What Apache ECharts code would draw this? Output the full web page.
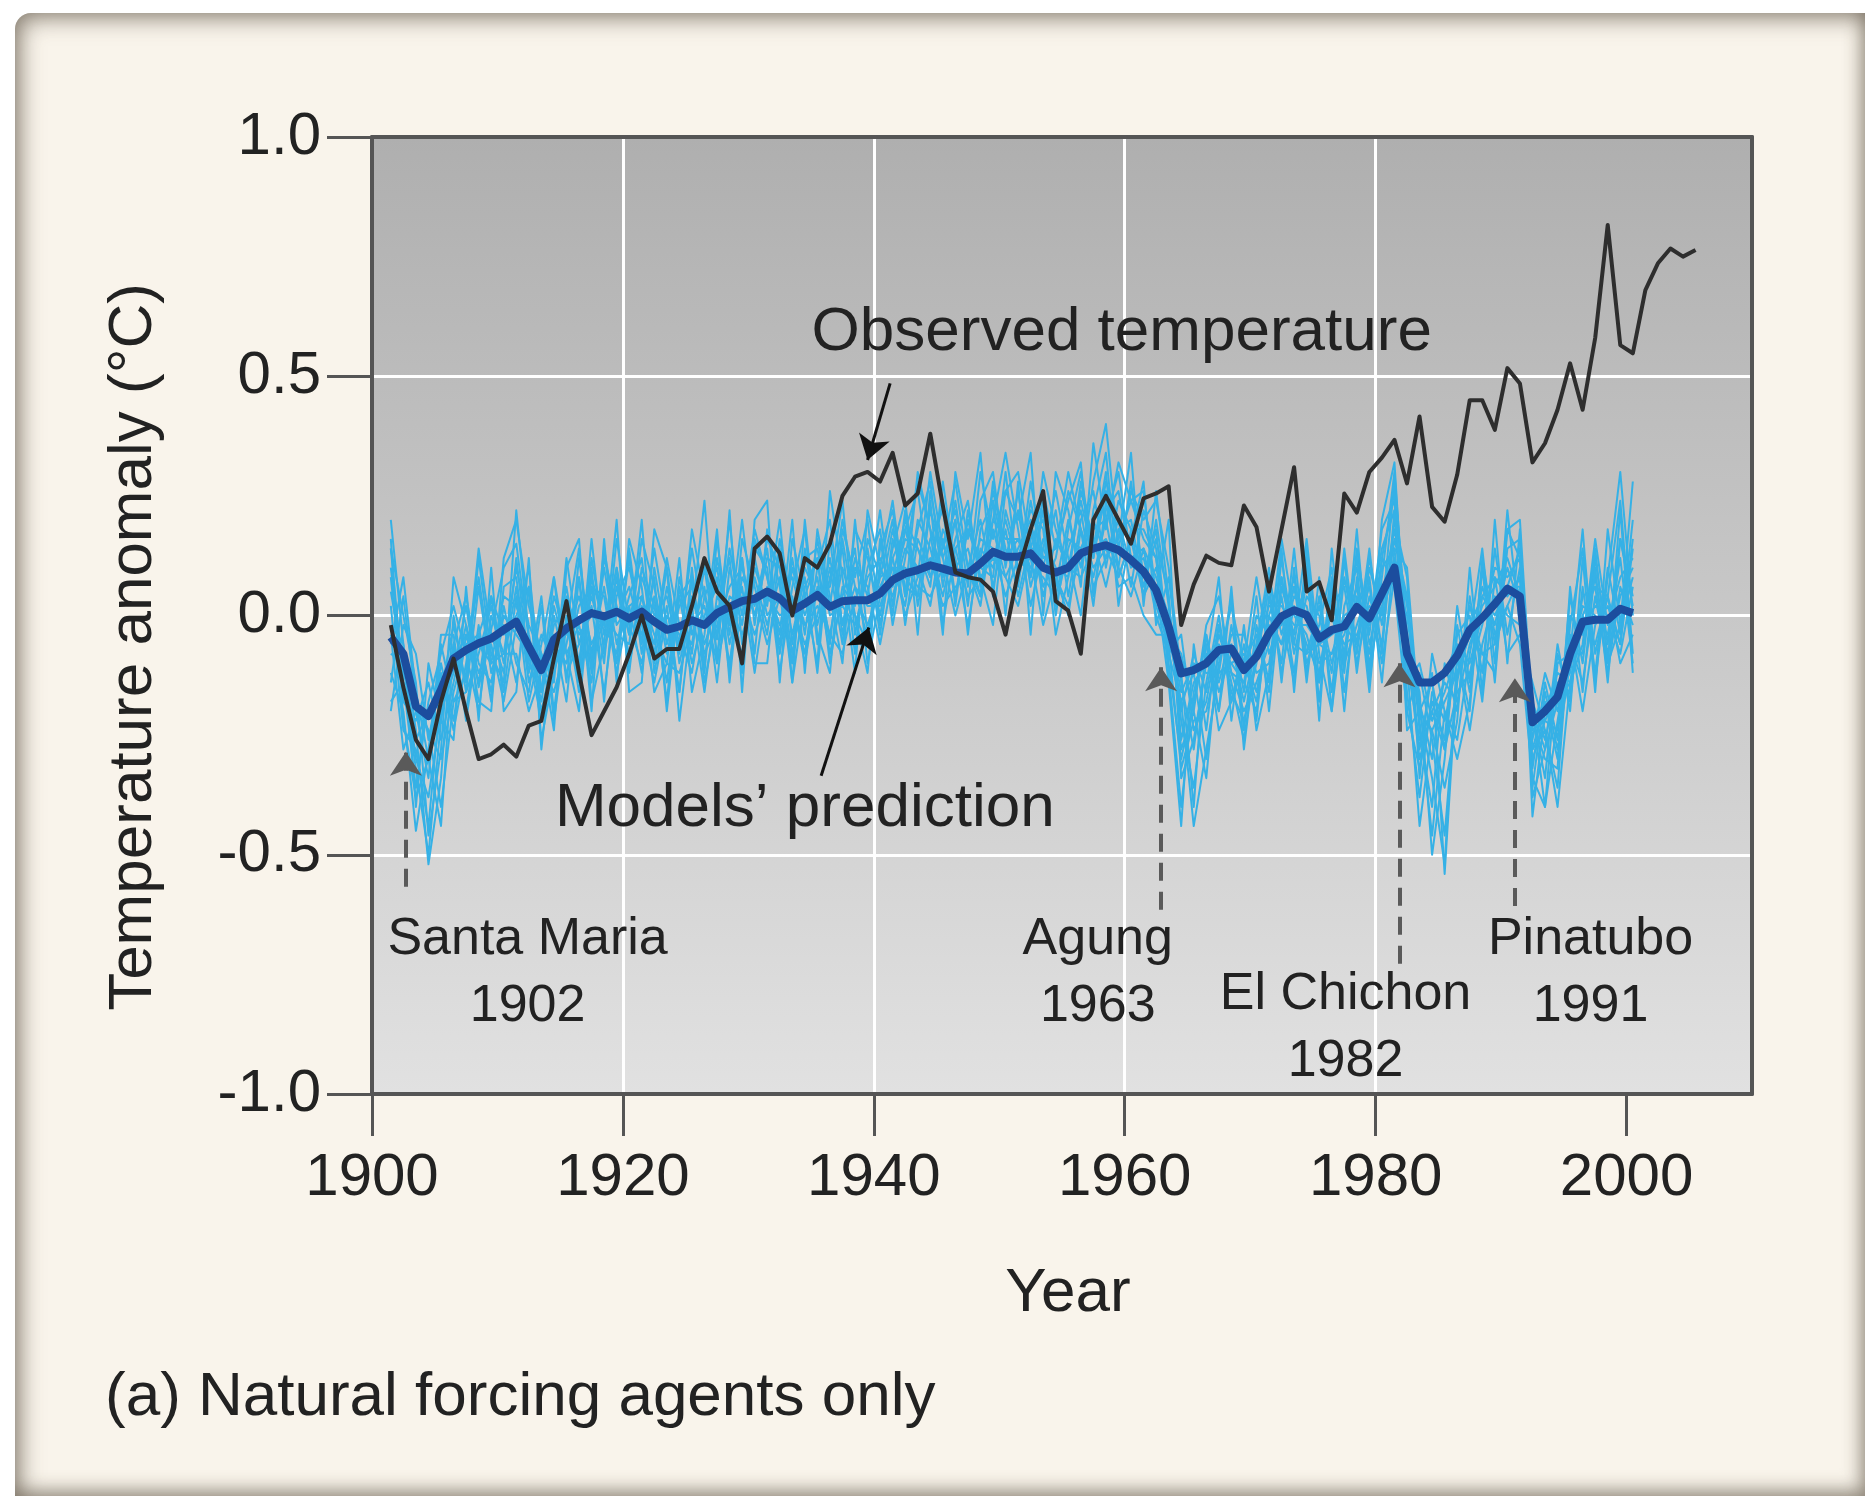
<!DOCTYPE html>
<html>
<head>
<meta charset="utf-8">
<script src="https://cdn.jsdelivr.net/npm/echarts/dist/echarts.min.js"></script>
<style>
  html, body { margin: 0; padding: 0; background: #ffffff; }
  #card {
    position: absolute; left: 15px; top: 13px; width: 1850px; height: 1483px;
    background: #f9f4eb; border-top-left-radius: 16px;
    box-shadow: inset 6px 6px 22px rgba(80, 70, 55, 0.55), inset -4px -6px 18px rgba(80, 70, 55, 0.45);
  }
  #chart { position: absolute; left: 0; top: 0; width: 1865px; height: 1496px; }
</style>
</head>
<body>
<div id="card"></div>
<div id="chart"></div>
<script>
// ---------------- DATA ----------------
const obsStartYear = 1901;   // observed series 1901–2005
const modelStartYear = 1901; // model series 1901–2000

const observed = [
  -0.02, -0.15, -0.26, -0.30, -0.18, -0.09, -0.20, -0.30, -0.29, -0.27,
  -0.295, -0.23, -0.22, -0.09, 0.03, -0.12, -0.25, -0.20, -0.15, -0.08,
  0.00, -0.09, -0.07, -0.07, 0.02, 0.12, 0.05, 0.02, -0.10, 0.14,
  0.165, 0.13, 0.00, 0.12, 0.10, 0.15, 0.25, 0.29, 0.30, 0.28,
  0.34, 0.23, 0.255, 0.38, 0.23, 0.09, 0.08, 0.075, 0.05, -0.04,
  0.09, 0.18, 0.26, 0.03, 0.01, -0.08, 0.20, 0.25, 0.20, 0.15,
  0.245, 0.255, 0.27, -0.02, 0.065, 0.125, 0.11, 0.105, 0.23, 0.185,
  0.05, 0.18, 0.31, 0.05, 0.07, -0.01, 0.255, 0.215, 0.30, 0.33,
  0.367, 0.276, 0.416, 0.227, 0.196, 0.294, 0.45, 0.45, 0.388, 0.517,
  0.485, 0.32, 0.36, 0.43, 0.527, 0.43, 0.58, 0.816, 0.565, 0.548,
  0.68, 0.736, 0.767, 0.75, 0.764
];

const modelMean = [
  -0.045, -0.08, -0.19, -0.21, -0.155, -0.09, -0.072, -0.058, -0.048, -0.03,
  -0.013, -0.065, -0.114, -0.05, -0.027, -0.01, 0.005, -0.002, 0.008, -0.006,
  0.008, -0.013, -0.03, -0.023, -0.01, -0.02, 0.005, 0.018, 0.03, 0.035,
  0.05, 0.036, 0.01, 0.025, 0.043, 0.018, 0.03, 0.032, 0.032, 0.046,
  0.074, 0.088, 0.095, 0.105, 0.098, 0.09, 0.088, 0.109, 0.133, 0.123,
  0.123, 0.13, 0.10, 0.09, 0.10, 0.13, 0.14, 0.147, 0.137, 0.116,
  0.092, 0.053, -0.023, -0.121, -0.114, -0.10, -0.072, -0.069, -0.114, -0.086,
  -0.037, -0.002, 0.011, 0.001, -0.048, -0.03, -0.023, 0.018, -0.006, 0.046,
  0.10, -0.08, -0.14, -0.14, -0.12, -0.084, -0.03, -0.005, 0.024, 0.056,
  0.04, -0.223, -0.20, -0.17, -0.08, -0.013, -0.009, -0.009, 0.014, 0.005
];

// individual model runs, in hundredths of a degree (1901–2000)
const runA = [
  5, -10, -30, -38, -20, -12, 2, -15, -3, 10,
  15, -5, -20, -8, 6, -10, 12, -4, 8, -12,
  10, 2, -14, 6, -8, 12, -5, 14, 0, 18,
  8, -6, 12, -4, 16, 2, 20, 6, -5, 14,
  22, 4, 18, 28, 6, 20, 2, 24, 30, 10,
  26, 8, 22, 0, 18, 30, 12, 28, 20, 6,
  22, 14, -10, -30, -18, -4, -20, 6, -24, -2,
  -14, 12, -6, 10, -18, 6, -12, 14, -4, 18,
  24, -20, -32, -18, -26, 2, -14, 10, -6, 18,
  12, -32, -14, -26, 4, -10, 12, -6, 16, 2
];
const runB = [
  -12, -20, -45, -28, -10, -22, -4, -14, 4, -16,
  4, -18, -6, 8, -14, 12, -8, 6, -10, 14,
  -6, 14, -2, -16, 8, -12, 16, -4, 12, -8,
  18, 6, -10, 14, -2, 10, -6, 18, 12, 0,
  14, 24, 2, 16, 22, 4, 18, 12, 26, 14,
  6, 24, 10, 22, 4, 20, 26, 10, 24, 18,
  4, 20, 2, -22, -36, -14, 0, -18, -6, -22,
  4, -10, 14, -12, 4, -16, 8, -6, 12, -2,
  16, 4, -24, -40, -10, -20, 4, -12, 14, -4,
  10, -20, -34, -8, -18, 6, -12, 10, -4, 20
];
const runC = [
  20, -6, -24, -52, -34, 0, -16, 6, -12, -2,
  -14, 6, -26, -12, -2, 14, -10, 10, -6, 4,
  12, -10, 6, -6, 14, -2, 8, -12, 16, 6,
  -4, 16, 2, -8, 10, 20, -2, 12, 4, 22,
  2, 18, 26, 8, 14, 28, 10, 2, 20, 34,
  18, 2, 14, 26, 12, 0, 22, 34, 8, 16,
  28, -2, 8, -14, -28, -8, -20, -2, -16, 4,
  -20, 6, -4, 16, -8, -20, 2, 10, -14, 8,
  30, -6, -16, -50, -30, -2, -16, 4, 8, -8,
  -4, -14, -24, -36, -2, 14, -8, 4, 24, -8
];
const runD = [
  -6, 8, -16, -30, -44, -6, -20, -2, -18, 6,
  8, -12, 4, -20, 0, -16, 6, -10, 16, -2,
  -10, 4, -18, 8, -4, 6, -14, 10, -2, 14,
  10, -12, 6, 18, -6, 8, 14, -8, 16, 8,
  10, 2, 20, 14, 4, 16, 24, 6, 18, 8,
  14, 20, 6, 12, 26, 18, 8, 20, 30, 12,
  10, 6, -14, -44, -6, -24, -2, -14, -26, -8,
  8, -4, 6, -10, -2, 10, -16, 4, -8, 12,
  6, -20, -12, -26, -46, -14, 2, -8, -12, 14,
  16, -42, -20, -12, -14, -6, 16, -2, 8, 12
];
const runE = [
  8, -18, -22, -14, -26, -14, -2, -12, -6, -18,
  -2, 10, -16, 2, -8, -2, -14, 12, 2, -8,
  4, -8, 10, -10, 2, -16, 4, 0, -8, 8,
  -2, 8, -14, 4, 12, -10, 6, 2, 14, -4,
  16, 8, 4, 22, 12, 0, 10, 20, 6, 18,
  4, 16, 20, 2, 14, 22, 6, 12, 16, 24,
  16, 12, -4, -8, -20, -2, 4, -12, -20, -14,
  -6, 16, 0, -4, -14, 2, 6, -10, 4, -6,
  20, 8, -34, -8, -20, -26, -8, 6, -2, 10,
  2, -26, -12, -20, -6, -14, 4, -10, -2, 8
];
const runF = [
  -20, -2, -8, -26, -12, -24, -10, 8, -10, -8,
  10, -2, -8, -14, 12, -6, 2, -16, 4, 10,
  -2, -14, 0, -4, -12, 4, 10, -6, 6, -12,
  6, -2, 4, -10, 6, -4, 10, 0, -6, 10,
  4, 14, 10, 2, 18, 12, -2, 14, 10, 20,
  10, 12, -2, 8, 2, 14, 18, 20, 6, 8,
  0, -4, -4, -18, -12, -30, -10, 2, -10, -18,
  0, -6, 4, 2, -10, -8, -4, 6, -10, 2,
  12, -14, -10, -22, -16, -8, -24, -6, 4, 0,
  -2, -18, -26, -14, -16, 0, -6, 4, -10, -4
];
const runG = [
  14, -14, -36, -18, -8, 2, -8, -20, 0, -8,
  -8, -20, -12, 4, -4, 4, -6, 0, -4, -6,
  16, 6, -8, 2, 6, -8, -2, 6, 10, 0,
  12, 10, -4, 8, -12, 16, -4, 10, 6, -6,
  8, 20, 14, 6, 28, 10, 14, 4, 24, 12,
  22, 6, 16, 10, 8, 26, 16, 6, 18, 20,
  6, 16, 4, -26, -14, -10, -14, -4, -4, -12,
  -10, 4, -12, 8, -4, 0, -10, -2, 6, -10,
  8, 0, -20, -14, -28, -4, 0, -18, 8, 4,
  8, -28, -18, -30, -4, -20, -2, 2, -6, 16
];
const runH = [
  -2, -6, -40, -10, -22, -6, 4, -10, -14, 0,
  -4, -8, -22, -6, -10, 2, 6, 4, -12, 2,
  4, -4, -10, -12, -2, 2, -10, 2, -4, 4,
  -6, 4, 8, -2, 2, -4, -8, 4, -2, 6,
  12, 0, 8, 12, 2, 6, 8, 16, 14, 4,
  12, 18, 4, 16, 10, 8, 14, 16, 10, 4,
  14, 0, -8, -4, -24, -18, -4, -12, -14, 0,
  -4, -2, 8, -8, -6, -4, -2, 6, 0, 10,
  14, -10, -26, -20, -14, -18, -6, 2, 6, 12,
  4, -30, -22, -16, -12, 4, 6, -12, 6, -2
];
const runI = [
  2, -24, -28, -44, -16, -2, -14, 12, -8, -14,
  22, -4, -16, -2, 2, -12, 16, -8, 6, -4,
  8, 0, 4, -8, 18, 4, -4, 20, -6, 10,
  2, 20, -6, 10, 4, 6, 24, -4, 10, 18,
  -2, 12, 28, 18, 8, 24, 6, 30, 16, 26,
  30, 14, 24, 6, 20, 10, 28, 40, 14, 26,
  20, 24, 10, -12, -40, -4, -16, -8, -10, -4,
  -16, 8, -8, 4, 0, -12, 14, -8, 10, 0,
  28, -4, -28, -12, -54, -12, -4, 14, -10, 22,
  -2, -20, -40, -10, -8, 18, -14, 8, 30, 0
];
const runJ = [
  -14, 4, -18, -24, -30, -16, -6, -4, 4, -4,
  0, 6, -10, -16, -6, 8, -12, 14, -2, 2,
  -12, 10, -6, 4, -10, 0, 6, -10, 8, 2,
  14, -8, 10, 0, 8, -8, 4, 14, -10, 4,
  18, 6, 4, 24, -2, 14, 18, 10, 8, 30,
  8, 28, 12, 14, 24, 32, 4, 22, 26, 12,
  14, 8, 0, -20, -8, -16, -2, -16, -22, -10,
  6, -12, 2, -6, -12, 4, -8, 12, -6, 4,
  18, 2, -18, -30, -12, -6, -10, 0, 2, 6,
  14, -24, -22, -24, 0, -4, 8, -8, 4, 10
];
const runK = [
  10, -12, -20, -34, -6, -18, -16, -8, 2, -10,
  6, -14, -4, -10, 4, -4, 0, -2, 10, -10,
  2, -6, 12, -2, -6, 10, -8, 4, 2, 12,
  0, 4, -10, 12, 14, 0, 2, -2, 8, 12,
  6, 16, 14, 8, 16, 4, 20, 10, 20, 16,
  16, 10, 8, 4, 16, 14, 20, 12, 20, 10,
  12, 2, -6, -32, -22, -20, -8, -6, -18, -6,
  2, 2, -2, -2, -6, -8, 0, 2, -2, 14,
  22, -16, -38, -16, -22, -10, -2, 4, 0, 6,
  6, -36, -16, -28, -10, 2, 0, -4, 12, -10
];
const runL = [
  -8, -10, -26, -20, -14, -10, -4, -6, -10, 4,
  2, -6, -18, 0, -12, -6, 4, -6, 0, 6,
  -4, 2, -2, -6, 4, -6, 2, -2, 4, -4,
  4, 0, 2, -6, 0, 12, -2, 6, 2, 2,
  10, 10, 6, 4, 10, 14, 4, 8, 12, 8,
  2, 14, 14, 8, 0, 18, 10, 14, 8, 16,
  4, 10, -2, -16, -10, -12, -12, -10, -8, -16,
  -2, -6, 6, 0, -4, 0, -6, -4, 2, 0,
  10, -8, -20, -24, -18, -12, -4, -8, -6, 2,
  8, -20, -28, -18, -14, -2, 2, 0, -8, 6
];
const runM = [
  14, 0, -14, -46, -28, 8, -2, -18, -20, 12,
  20, 2, -8, -24, 10, 16, -18, -6, 20, -16,
  -14, 18, 10, -22, 0, 24, -10, 22, -16, 20,
  24, -14, 16, 4, -10, 26, 8, -12, 22, 10,
  24, 4, 30, 18, -4, 30, 16, 34, 4, 26,
  20, 34, 0, 30, 22, 6, 36, 18, 32, 24,
  26, 4, 20, -34, -26, -10, 8, -22, -2, -24,
  -12, 14, -16, 12, -22, 14, -10, 18, -12, 20,
  32, -10, -44, -24, -36, -22, 10, -16, 20, -10,
  18, -38, -28, -6, -20, 12, -16, 18, -2, 28
];
const runN = [
  -18, -14, -32, -50, -22, -26, 6, -22, 10, -20,
  -16, 12, -28, -4, -18, 8, -20, 16, -14, 16,
  6, -16, -10, 12, -16, -4, 18, -14, 12, -10,
  -10, 14, -14, 20, -4, -12, 16, 0, -12, 16,
  0, 22, -4, 26, 12, 20, -4, 18, 24, 0,
  28, -4, 26, 14, 30, 18, 2, 24, 10, 28,
  8, 18, -8, -18, -44, -28, -12, 4, -28, -6,
  10, -14, 10, -14, 8, -20, 12, -12, 8, -14,
  14, 10, -22, -46, -20, -30, -18, 10, -14, 18,
  20, -22, -30, -32, 6, -16, 10, -14, 16, 4
];
const runO = [
  16, -22, -38, -30, -4, -4, -22, -4, -16, 2,
  -10, -16, 2, -22, -2, -14, 10, -18, 10, -4,
  20, -12, 2, -16, 10, -14, 0, 12, -12, 16,
  8, -4, 20, -12, 18, 4, -10, 20, -4, 8,
  20, -2, 16, 10, 24, 2, 22, 8, -2, 22,
  12, 22, 18, -4, 8, 28, 14, 30, 2, 18,
  18, 12, -12, -40, -16, -6, -24, -18, -10, 8,
  -8, 0, -14, 14, -14, 8, -20, 8, -16, 12,
  26, -24, -20, -34, -52, -8, -20, 12, -4, 2,
  -6, -34, -40, -22, -6, -8, 14, -10, 22, -12
];
const runP = [
  -4, -28, -20, -24, -40, -18, -12, 14, -4, -12,
  12, -10, -16, 8, -8, -20, 8, -2, -8, 12,
  -8, 8, -20, 4, 8, -10, 12, -2, 20, -2,
  16, 10, -8, 6, 12, -6, 18, 8, 20, -2,
  12, 18, 8, 30, 14, 22, 10, 4, 28, 12,
  16, 8, 30, 18, 10, 24, 12, 26, 16, 34,
  2, 26, 4, -28, -20, -34, -6, -10, -14, -20,
  0, 8, -6, -8, 2, -10, -2, -6, 14, -8,
  22, -6, -30, -20, -28, -16, -12, -2, 10, 8,
  12, -28, -24, -40, -14, 0, 6, 4, -6, 14
];
const modelRuns = [runA, runB, runC, runD, runE, runF, runG, runH, runI, runJ, runK, runL, runM, runN, runO, runP];

const xTickValues = [1900, 1920, 1940, 1960, 1980, 2000];
const yTickLabels = { '-1': '-1.0', '-0.5': '-0.5', '0': '0.0', '0.5': '0.5', '1': '1.0' };

const volcanoNames = ['Santa Maria', 'Agung', 'El Chichon', 'Pinatubo'];
const volcanoYears = ['1902', '1963', '1982', '1991'];

// ---------------- LAYOUT (annotation anchors, in data units) ----------------
const volcanoLabelAt = [[1912.4, -0.748], [1957.85, -0.748], [1977.6, -0.862], [1997.13, -0.748]];
const volcanoArrowAt = [
  { x: 1902.7, y0: -0.567, y1: -0.285 },
  { x: 1962.9, y0: -0.615, y1: -0.108 },
  { x: 1981.9, y0: -0.728, y1: -0.100 },
  { x: 1991.1, y0: -0.607, y1: -0.131 }
];
const calloutText = ['Observed temperature', 'Models\u2019 prediction'];
const calloutLabelAt = [[1959.76, 0.59], [1934.5, -0.404]];
const calloutArrowAt = [
  { from: [1941.3, 0.485], to: [1939.5, 0.325] },
  { from: [1935.8, -0.335], to: [1939.6, -0.025] }
];

// ---------------- CHART ----------------
const FONT = '"Liberation Sans", Arial, Helvetica, sans-serif';
const TXT = '#222222';
const AX = '#555555';

function toPairs(vals, start, scale) {
  return vals.map((v, i) => [start + i + 0.5, v / scale]);
}

const chart = echarts.init(document.getElementById('chart'), null, { renderer: 'canvas' });

const runSeries = modelRuns.map((run, k) => ({
  type: 'line', name: 'run' + k, data: toPairs(run, modelStartYear, 100),
  symbol: 'none', silent: true, z: 2,
  lineStyle: { color: '#35b1e6', width: 2, join: 'round' }
}));

const labelData = [];
calloutText.forEach((t, i) => labelData.push({ value: calloutLabelAt[i], text: t, size: 62 }));
volcanoNames.forEach((n, i) => labelData.push({ value: volcanoLabelAt[i], text: n + '\n' + volcanoYears[i], size: 52 }));

const markLines = [];
volcanoArrowAt.forEach(a => markLines.push([
  { coord: [a.x, a.y0], lineStyle: { color: '#5a5a5a', width: 4, type: [18, 11] } },
  { coord: [a.x, a.y1] }
]));
calloutArrowAt.forEach(a => markLines.push([
  { coord: a.from, lineStyle: { color: '#111111', width: 3, type: 'solid' } },
  { coord: a.to }
]));

const option = {
  animation: false,
  backgroundColor: 'transparent',
  grid: {
    left: 372, top: 137, width: 1380, height: 957,
    show: true, borderWidth: 0,
    backgroundColor: {
      type: 'linear', x: 0, y: 0, x2: 0, y2: 1,
      colorStops: [
        { offset: 0, color: '#afafaf' },
        { offset: 0.5, color: '#c8c8c8' },
        { offset: 1, color: '#e1e1e1' }
      ]
    }
  },
  xAxis: [
    {
      type: 'value', min: 1900, max: 2010, interval: 20, position: 'bottom',
      axisLine: { show: true, onZero: false, lineStyle: { color: AX, width: 4 } },
      axisTick: { show: true, inside: false, length: 42, customValues: xTickValues, lineStyle: { color: AX, width: 3 } },
      axisLabel: { show: true, margin: 54, fontSize: 60, color: TXT, fontFamily: FONT, customValues: xTickValues, formatter: v => String(v) },
      splitLine: { show: true, showMinLine: false, showMaxLine: false, lineStyle: { color: '#ffffff', width: 3 } }
    },
    {
      type: 'value', min: 1900, max: 2010, position: 'top',
      axisLine: { show: true, onZero: false, lineStyle: { color: AX, width: 4 } },
      axisTick: { show: false }, axisLabel: { show: false }, splitLine: { show: false }
    }
  ],
  yAxis: [
    {
      type: 'value', min: -1, max: 1, interval: 0.5, position: 'left',
      axisLine: { show: true, onZero: false, lineStyle: { color: AX, width: 4 } },
      axisTick: { show: true, inside: false, length: 45, lineStyle: { color: AX, width: 3 } },
      axisLabel: { show: true, margin: 51, fontSize: 60, color: TXT, fontFamily: FONT,
        formatter: v => yTickLabels[String(v)] !== undefined ? yTickLabels[String(v)] : v.toFixed(1) },
      splitLine: { show: true, showMinLine: false, showMaxLine: false, lineStyle: { color: '#ffffff', width: 3 } }
    },
    {
      type: 'value', min: -1, max: 1, position: 'right',
      axisLine: { show: true, onZero: false, lineStyle: { color: AX, width: 4 } },
      axisTick: { show: false }, axisLabel: { show: false }, splitLine: { show: false }
    }
  ],
  series: runSeries.concat([
    {
      type: 'line', name: 'Models mean', data: toPairs(modelMean, modelStartYear, 1),
      symbol: 'none', silent: true, z: 4,
      lineStyle: { color: '#1c4d9e', width: 8, join: 'round' }
    },
    {
      type: 'line', name: 'Observed', data: toPairs(observed, obsStartYear, 1),
      symbol: 'none', silent: true, z: 5,
      lineStyle: { color: '#2e2e2e', width: 4, join: 'round' }
    },
    {
      type: 'scatter', name: 'annotations', silent: true, z: 6,
      symbolSize: 1, itemStyle: { color: 'rgba(0,0,0,0)', opacity: 1 },
      data: labelData.map(d => ({
        value: d.value,
        label: {
          show: true, position: 'inside', formatter: d.text, fontSize: d.size, opacity: 1,
          lineHeight: d.size === 52 ? 67 : 70, color: TXT, fontFamily: FONT, align: 'center', verticalAlign: 'middle',
          textBorderWidth: 0
        }
      })),
      markLine: {
        silent: true, animation: false, symbol: ['none', 'arrow'], symbolSize: 24,
        label: { show: false }, emphasis: { disabled: true },
        data: markLines
      }
    }
  ]),
  graphic: [
    { type: 'text', x: 134, y: 647, rotation: Math.PI / 2,
      style: { text: 'Temperature anomaly (\u00B0C)', fontSize: 62, fontFamily: FONT, fill: TXT, textAlign: 'center', textVerticalAlign: 'middle' } },
    { type: 'text', x: 1068, y: 1294,
      style: { text: 'Year', fontSize: 62, fontFamily: FONT, fill: TXT, textAlign: 'center', textVerticalAlign: 'middle' } },
    { type: 'text', x: 105, y: 1398,
      style: { text: '(a) Natural forcing agents only', fontSize: 62, fontFamily: FONT, fill: TXT, textAlign: 'left', textVerticalAlign: 'middle' } }
  ]
};
chart.setOption(option);
</script>
</body>
</html>
